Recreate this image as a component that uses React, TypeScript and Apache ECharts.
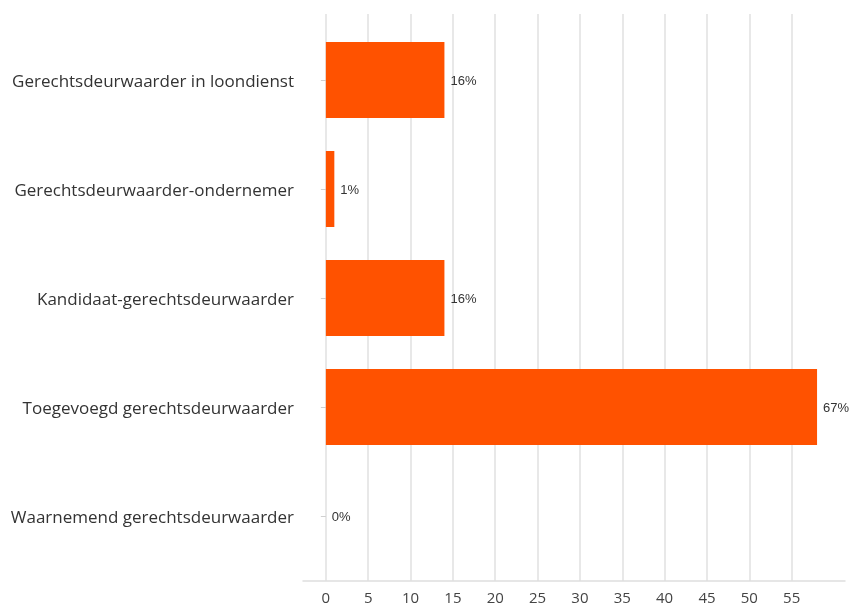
import React, { useEffect, useRef } from "react";
import * as echarts from "echarts";

const categories = [
  "Gerechtsdeurwaarder in loondienst",
  "Gerechtsdeurwaarder-ondernemer",
  "Kandidaat-gerechtsdeurwaarder",
  "Toegevoegd gerechtsdeurwaarder",
  "Waarnemend gerechtsdeurwaarder",
];
const counts = [14, 1, 14, 58, 0];
const percentLabels = ["16%", "1%", "16%", "67%", "0%"];
const xTicks = [0, 5, 10, 15, 20, 25, 30, 35, 40, 45, 50, 55];

const X_MIN = -2.7;
const X_MAX = 61.3;

export default function App() {
  const ref = useRef<HTMLDivElement>(null);
  useEffect(() => {
    if (!ref.current) return;
    const chart = echarts.init(ref.current, null, { renderer: "svg" });
    chart.setOption({
      animation: false,
      grid: [
        { left: 303, right: 9, top: 14, bottom: 24, containLabel: false },
        { left: 303, right: 9, top: 25.5, bottom: 34.5, containLabel: false },
      ],
      xAxis: [
        {
          gridIndex: 0,
          type: "value",
          min: X_MIN,
          max: X_MAX,
          axisLine: { show: true, lineStyle: { color: "#dedede", width: 1.5 } },
          axisTick: { show: false, customValues: xTicks },
          axisLabel: {
            customValues: xTicks,
            color: "#444",
            fontFamily: "Open Sans",
            fontSize: 15,
            margin: 8,
          },
          splitLine: { show: true, lineStyle: { color: "#e0e0e0", width: 1.5 } },
        },
        {
          gridIndex: 1,
          type: "value",
          min: X_MIN,
          max: X_MAX,
          show: false,
          splitLine: { show: false },
        },
      ],
      yAxis: [
        {
          gridIndex: 0,
          type: "value",
          show: false,
          splitLine: { show: false },
        },
        {
          gridIndex: 1,
          type: "category",
          inverse: true,
          data: categories,
          axisLine: { show: false },
          axisTick: {
            show: true,
            length: 5,
            alignWithLabel: true,
            lineStyle: { color: "#d0d0d0" },
          },
          axisLabel: {
            color: "#333",
            fontFamily: "Open Sans",
            fontSize: 17,
            margin: 9,
          },
          splitLine: { show: false },
        },
      ],
      series: [
        {
          type: "bar",
          xAxisIndex: 1,
          yAxisIndex: 1,
          barWidth: 76,
          data: counts,
          itemStyle: { color: "#FF5200" },
          label: {
            show: true,
            position: "right",
            distance: 6,
            formatter: (p: any) => percentLabels[p.dataIndex],
            color: "#333",
            fontFamily: "Liberation Sans, Arial",
            fontSize: 13,
          },
        },
      ],
    });
    return () => chart.dispose();
  }, []);
  return (
    <div
      ref={ref}
      style={{ position: "fixed", left: 0, top: 0, width: 854, height: 605 }}
    />
  );
}
